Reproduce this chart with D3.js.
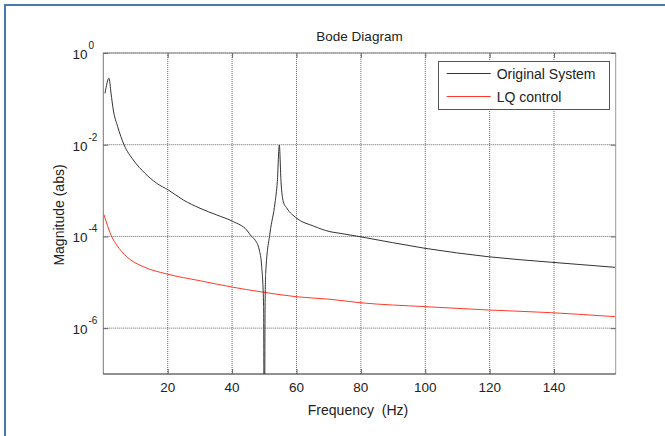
<!DOCTYPE html>
<html>
<head>
<meta charset="utf-8">
<script src="https://cdn.jsdelivr.net/npm/d3@7"></script>
<style>
  html, body { margin: 0; padding: 0; background: #fff; }
  svg { display: block; font-family: "Liberation Sans", Arial, sans-serif; }
</style>
</head>
<body>
<svg id="chart" width="665" height="436"></svg>
<script>
// ---- data ----
const origFreq = [0.53, 1.77, 2.39, 3.11, 4.47, 6.43, 9.32, 12.95, 16.59, 20.19, 24.85, 30.04, 35.22, 40.38, 44.54, 46.09, 47.12, 48.45, 49.2, 49.8, 50.0, 50.25, 50.44, 51.78, 53.33, 54.05, 54.67, 55.2, 55.91, 56.97, 60.07, 65.23, 70.41, 73.52, 79.73, 99.92, 119.58, 139.28, 158.93];
const origMag  = [0.132, 0.281, 0.134, 0.0571, 0.0247, 0.0100, 4.64e-3, 2.38e-3, 1.44e-3, 1.03e-3, 6.23e-4, 4.11e-4, 2.94e-4, 2.10e-4, 1.38e-4, 9.87e-5, 8.36e-5, 5.06e-5, 2.19e-5, 3e-6, 1e-10, 3e-6, 1.6e-5, 1.19e-4, 5.36e-4, 1.56e-3, 9.86e-3, 1.56e-3, 5.72e-4, 4.17e-4, 2.49e-4, 1.69e-4, 1.27e-4, 1.17e-4, 9.86e-5, 5.51e-5, 3.61e-5, 2.73e-5, 2.12e-5];
const lqFreq = [0.2, 2.61, 4.16, 7.27, 12.42, 19.69, 30.04, 40.38, 48.67, 59.85, 70.41, 79.73, 99.92, 119.58, 139.28, 158.93];
const lqMag  = [3.0e-4, 9.87e-5, 6.5e-5, 3.61e-5, 2.19e-5, 1.52e-5, 1.08e-5, 7.78e-6, 6.24e-6, 4.85e-6, 4.26e-6, 3.59e-6, 2.94e-6, 2.49e-6, 2.17e-6, 1.78e-6];
const seriesNames = ["Original System", "LQ control"];
const xTicks = [20, 40, 60, 80, 100, 120, 140];
const yTickExps = [0, -2, -4, -6];
const xDomain = [0, 159.15];
const yDomain = [1e-7, 1];

// ---- layout ----
const svg = d3.select("#chart");
const L = 103.3, R = 615.7, T = 53, B = 374;

const x = d3.scaleLinear().domain(xDomain).range([L, R]);
const y = d3.scaleLog().domain(yDomain).range([B, T]);

// frame border (blue, left & top)
svg.append("line").attr("x1", 5).attr("x2", 5).attr("y1", 5).attr("y2", 436)
  .attr("stroke", "#4a78b0").attr("stroke-width", 2);
svg.append("line").attr("x1", 4).attr("x2", 665).attr("y1", 5).attr("y2", 5)
  .attr("stroke", "#4a78b0").attr("stroke-width", 2);

// plot background
svg.append("rect").attr("x", L).attr("y", T).attr("width", R - L).attr("height", B - T).attr("fill", "#fff");

// grid
const grid = svg.append("g");
grid.selectAll("line.gx").data(xTicks).enter().append("line")
  .attr("x1", d => x(d)).attr("x2", d => x(d)).attr("y1", T).attr("y2", B)
  .attr("stroke", "#666").attr("stroke-width", 1).attr("stroke-dasharray", "1,1");
grid.selectAll("line.gy").data(yTickExps).enter().append("line")
  .attr("x1", L).attr("x2", R).attr("y1", d => y(Math.pow(10, d))).attr("y2", d => y(Math.pow(10, d)))
  .attr("stroke", "#666").attr("stroke-width", 1).attr("stroke-dasharray", "1,1");

// clip
svg.append("clipPath").attr("id", "plotclip").append("rect")
  .attr("x", L).attr("y", T).attr("width", R - L).attr("height", B - T);

const line = d3.line().x(d => x(d[0])).y(d => y(d[1])).curve(d3.curveMonotoneX);
const plot = svg.append("g").attr("clip-path", "url(#plotclip)");
plot.append("path").datum(lqFreq.map((f, i) => [f, lqMag[i]]))
  .attr("d", line).attr("fill", "none").attr("stroke", "#ff3a2a").attr("stroke-width", 1);
plot.append("path").datum(origFreq.map((f, i) => [f, origMag[i]]))
  .attr("d", line).attr("fill", "none").attr("stroke", "#333").attr("stroke-width", 1);

// axes box
const box = svg.append("g");
box.append("line").attr("x1", L).attr("x2", R).attr("y1", T).attr("y2", T).attr("stroke", "#888");
box.append("line").attr("x1", R).attr("x2", R).attr("y1", T).attr("y2", B).attr("stroke", "#999");
box.append("line").attr("x1", L).attr("x2", L).attr("y1", T).attr("y2", B).attr("stroke", "#777");
box.append("line").attr("x1", L).attr("x2", R).attr("y1", B).attr("y2", B).attr("stroke", "#222");

// tick marks (inside) using d3 axes
const xAxisB = d3.axisTop(x).tickValues(xTicks).tickSize(5).tickFormat("");
const xAxisT = d3.axisBottom(x).tickValues(xTicks).tickSize(5).tickFormat("");
const yVals = yTickExps.map(e => Math.pow(10, e));
const yAxisL = d3.axisRight(y).tickValues(yVals).tickSize(5).tickFormat("");
const yAxisR = d3.axisLeft(y).tickValues(yVals).tickSize(5).tickFormat("");
[[xAxisB, `translate(0,${B})`], [xAxisT, `translate(0,${T})`], [yAxisL, `translate(${L},0)`], [yAxisR, `translate(${R},0)`]]
  .forEach(([ax, tr]) => {
    const g = svg.append("g").attr("transform", tr).call(ax);
    g.select(".domain").remove();
    g.selectAll(".tick line").attr("stroke", "#666");
  });

// x tick labels
svg.append("g").selectAll("text").data(xTicks).enter().append("text")
  .attr("x", d => x(d)).attr("y", 392).attr("text-anchor", "middle")
  .attr("font-size", 13.5).attr("fill", "#222").text(d => d);

// y tick labels (10^n)
const yl = svg.append("g").selectAll("g").data(yTickExps).enter().append("g");
yl.append("text").attr("x", 87.5).attr("y", d => y(Math.pow(10, d)) + 6)
  .attr("text-anchor", "end").attr("font-size", 13.5).attr("fill", "#222").text("10");
yl.append("text").attr("x", 88.5).attr("y", d => y(Math.pow(10, d)) - 4)
  .attr("font-size", 10).attr("fill", "#222").text(d => d === 0 ? "0" : String(d));

// title and axis labels
svg.append("text").attr("x", (L + R) / 2).attr("y", 41).attr("text-anchor", "middle")
  .attr("font-size", 13.5).attr("fill", "#222").text("Bode Diagram");
svg.append("text").attr("x", 358).attr("y", 415).attr("text-anchor", "middle")
  .attr("font-size", 14).attr("fill", "#222").attr("xml:space", "preserve").style("white-space", "pre")
  .text("Frequency  (Hz)");
svg.append("text").attr("transform", "translate(63.5,215) rotate(-90)").attr("text-anchor", "middle")
  .attr("font-size", 14).attr("fill", "#222").text("Magnitude (abs)");

// legend
const lg = svg.append("g");
lg.append("rect").attr("x", 438.5).attr("y", 61.5).attr("width", 171).attr("height", 48)
  .attr("fill", "#fff").attr("stroke", "#555");
const legColors = ["#333", "#ff3a2a"];
const legY = [73.5, 96.5];
seriesNames.forEach((name, i) => {
  lg.append("line").attr("x1", 446.7).attr("x2", 490.7).attr("y1", legY[i]).attr("y2", legY[i])
    .attr("stroke", legColors[i]).attr("stroke-width", 1);
  lg.append("text").attr("x", 496.7).attr("y", legY[i] + 5).attr("font-size", 14)
    .attr("fill", "#222").text(name);
});
</script>
</body>
</html>
